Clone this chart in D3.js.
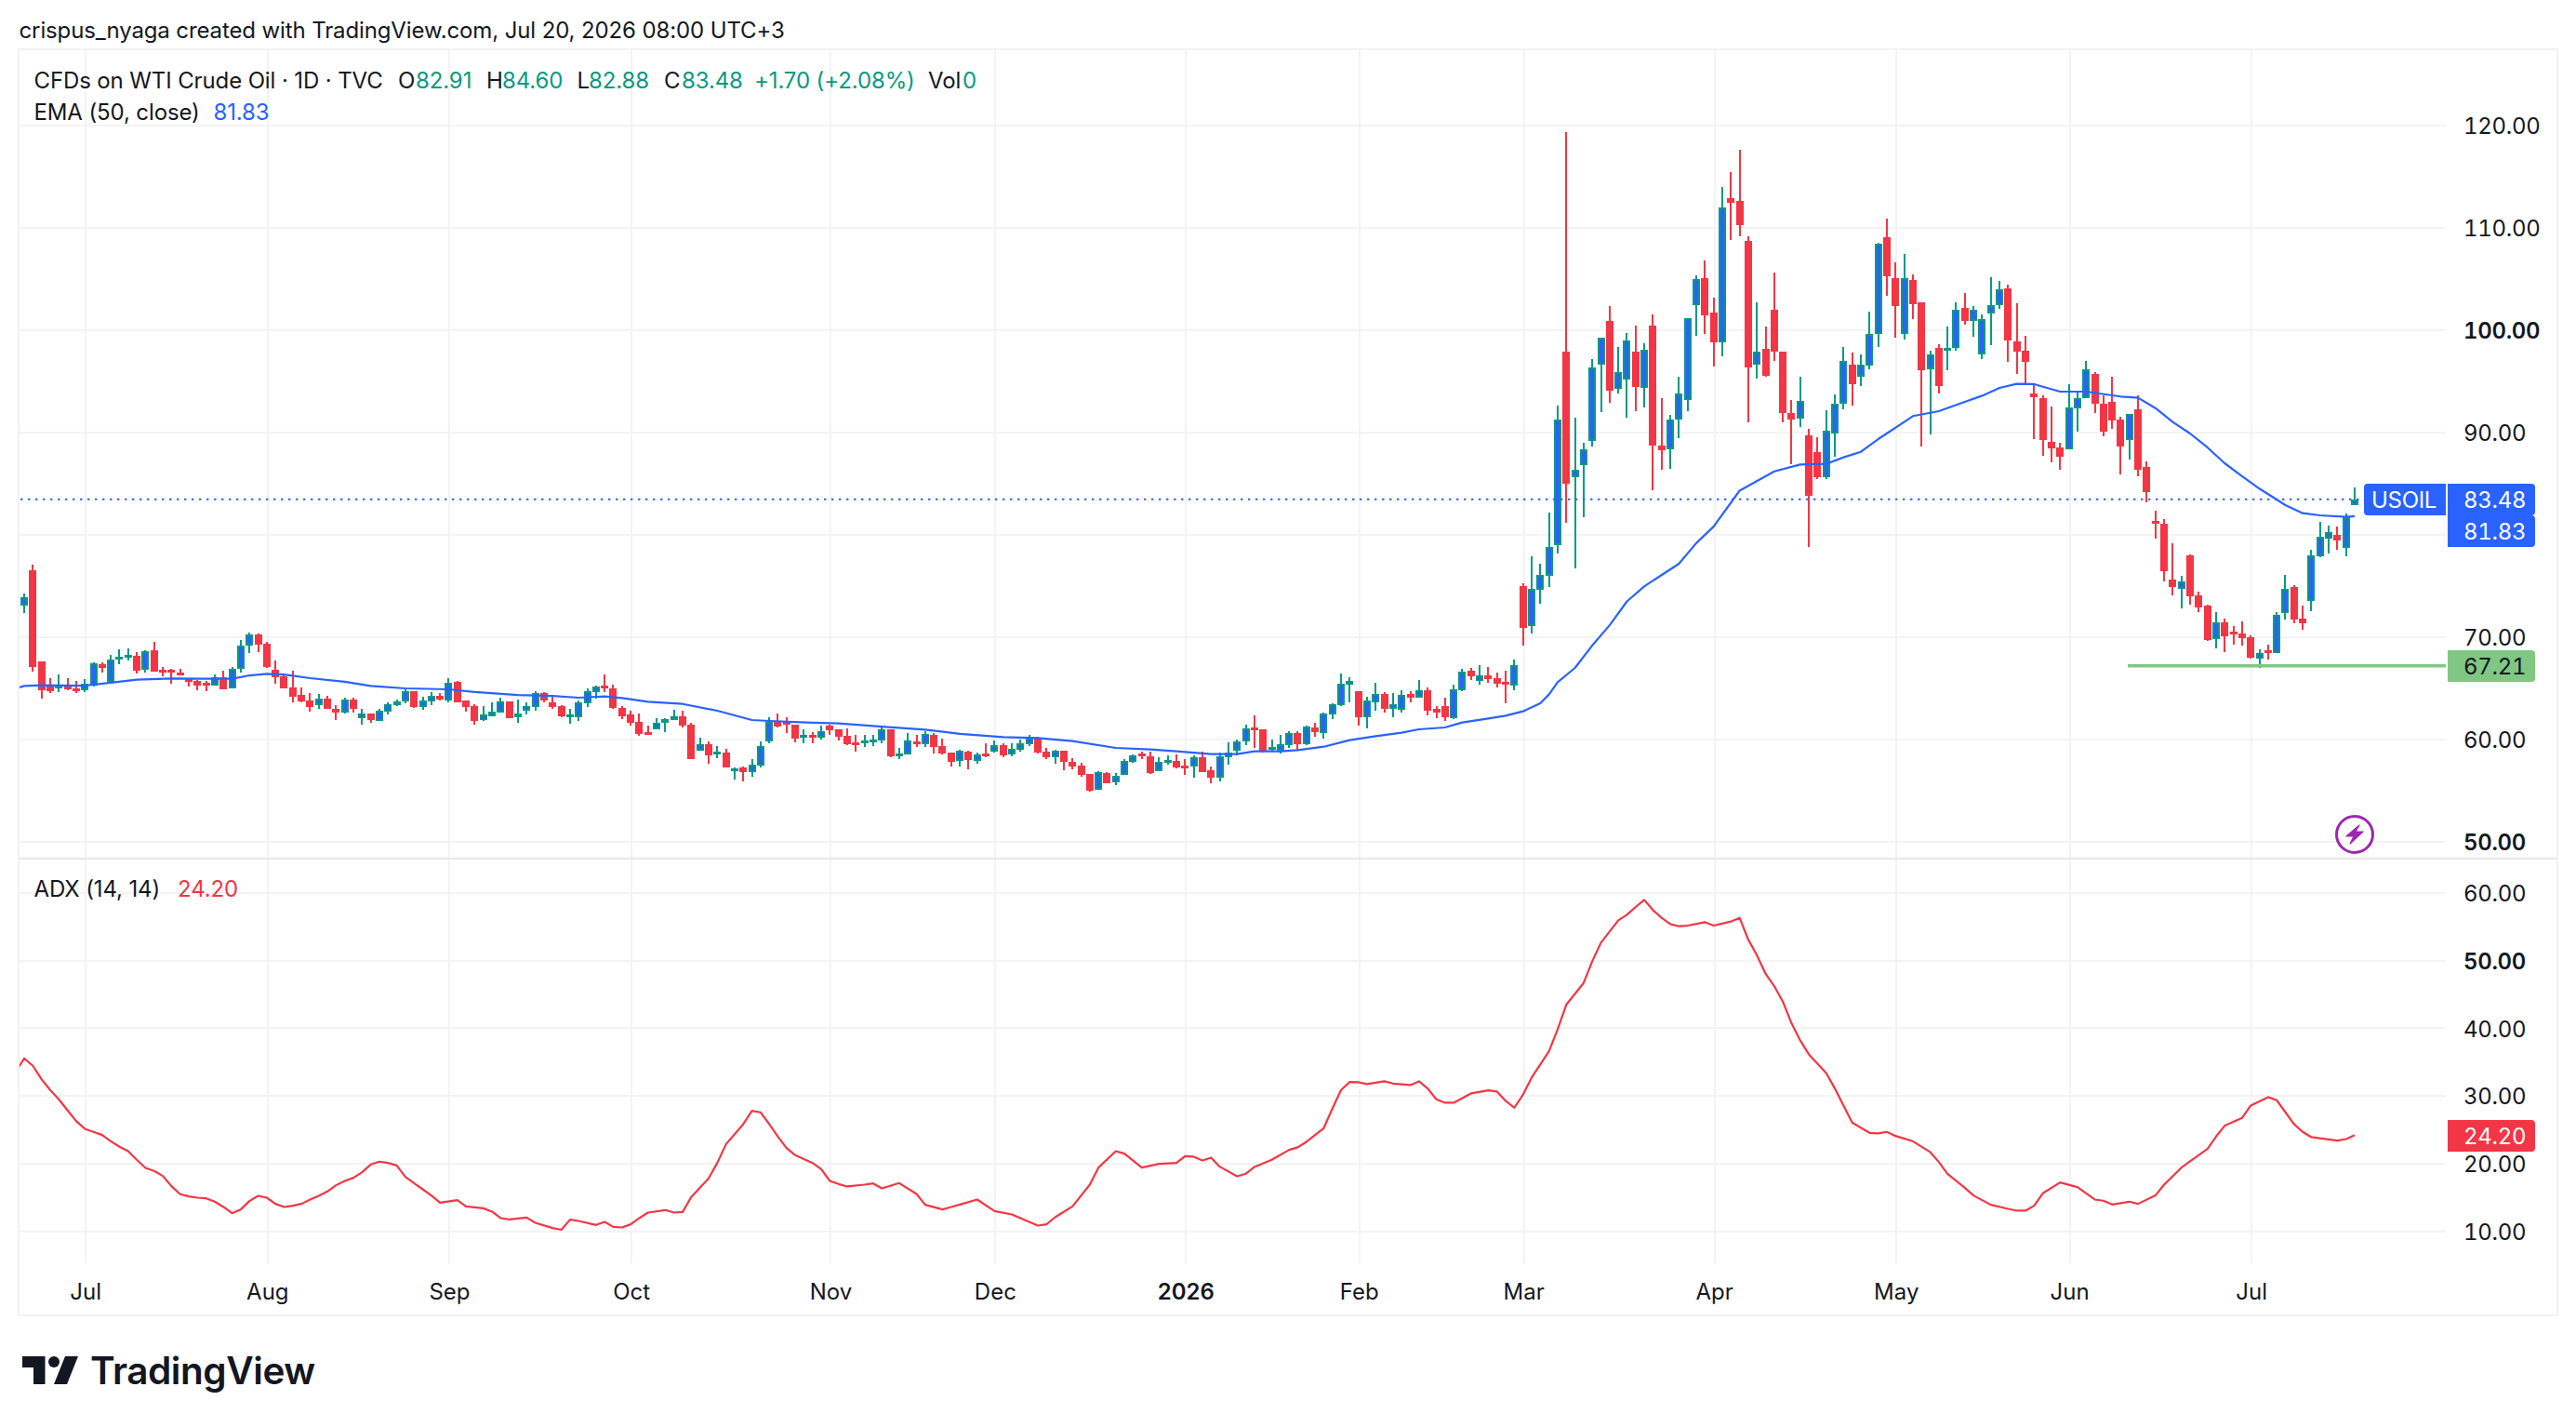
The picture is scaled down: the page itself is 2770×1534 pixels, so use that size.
<!DOCTYPE html>
<html>
<head>
<meta charset="utf-8">
<script src="https://cdn.jsdelivr.net/npm/d3@7/dist/d3.min.js"></script>
<style>
html,body{margin:0;padding:0;background:#fff;}
svg{display:block;}
text{font-family:Inter,"Noto Sans",sans-serif;fill:#131722;}
</style>
</head>
<body>
<svg id="chart" width="2770" height="1534"></svg>
<script>
// Daily WTI crude candles; the first bar sits just off the left edge of the pane.
const firstBar = -1;
const barOpen = [73.58,73.12,76.55,67.64,65.21,64.97,65.36,65.00,64.82,65.30,67.36,65.64,67.82,68.09,68.18,66.82,68.73,66.82,66.82,66.55,66.00,65.73,65.55,65.27,66.09,65.00,66.91,69.18,70.27,69.36,66.82,66.18,65.09,64.36,63.82,63.36,64.00,63.00,62.64,63.91,62.09,62.55,61.82,62.73,63.36,63.73,64.73,63.18,63.73,64.27,63.82,65.64,63.82,63.27,61.91,62.27,62.64,63.73,62.18,62.82,63.18,64.55,63.64,63.27,62.27,62.18,63.55,64.64,65.27,65.00,63.09,62.45,61.73,60.73,
61.00,61.64,61.91,62.27,61.45,58.91,59.55,58.64,58.73,56.91,57.27,56.82,57.45,59.82,61.82,61.82,61.45,60.27,60.45,60.18,61.36,61.00,60.36,59.73,59.73,59.91,59.91,61.00,58.45,58.55,59.82,59.55,60.45,59.36,58.73,57.91,58.82,57.91,58.64,58.82,59.45,58.55,59.00,59.55,60.18,58.82,58.27,58.91,57.82,57.45,56.64,55.09,56.73,55.82,56.55,57.82,58.64,58.36,56.91,57.82,57.91,57.45,57.36,58.27,57.00,56.27,58.27,58.91,59.82,61.18,61.00,59.09,58.91,
59.45,60.64,59.55,61.18,60.67,62.45,63.36,65.36,64.73,62.18,63.64,64.45,63.00,62.91,64.45,64.09,64.82,63.00,63.27,62.09,64.82,66.73,65.73,66.27,66.00,65.64,65.27,74.97,
71.07,74.64,76.00,78.99,97.95,85.65,86.82,89.19,96.62,100.88,94.29,95.16,97.95,94.32,100.42,88.70,88.34,91.27,93.21,102.47,105.06,101.69,98.83,112.89,112.60,108.70,96.62,98.15,101.98,97.95,91.95,91.36,89.71,88.05,85.68,
89.91,92.79,96.61,95.42,96.55,99.61,109.06,105.06,99.61,104.88,102.70,96.15,98.24,98.06,98.24,102.15,100.88,97.61,101.61,102.42,104.06,98.88,97.97,93.79,93.33,89.06,88.52,88.33,92.33,93.36,95.70,92.79,92.97,91.24,89.24,92.24,86.60,
81.33,81.06,75.67,74.70,77.97,74.06,73.06,69.79,71.42,70.52,70.33,69.97,67.88,68.70,68.42,72.33,74.88,71.79,73.52,77.88,79.61,79.97,78.70,82.91];
const barHigh = [73.70,74.27,77.06,67.64,66.00,66.36,66.00,65.70,65.91,67.55,67.55,68.24,68.82,68.91,68.55,68.73,69.55,67.09,66.91,66.91,66.00,65.82,65.73,66.36,66.73,67.09,69.73,70.45,70.36,69.55,67.73,66.36,66.73,65.09,64.55,64.45,64.27,63.36,64.09,64.09,63.00,62.55,63.00,63.64,63.91,65.00,64.73,64.18,64.64,64.55,66.00,65.73,63.82,63.45,63.27,63.64,64.09,63.73,63.91,63.64,64.73,64.64,64.18,63.36,63.00,63.82,65.00,65.27,66.36,65.36,63.27,62.82,62.55,61.36,
62.09,62.09,62.91,62.82,61.64,60.18,59.82,59.36,59.09,57.27,57.36,58.09,59.82,62.18,62.55,62.18,61.45,61.00,60.73,61.36,61.45,61.00,61.09,60.45,60.45,60.45,61.18,61.00,59.18,60.64,60.45,60.82,60.64,60.09,58.73,59.00,58.91,58.73,59.64,59.91,59.64,59.64,60.00,60.45,60.27,59.18,59.00,58.91,58.18,57.73,56.64,56.91,56.82,56.73,58.09,58.55,58.82,58.82,58.27,58.45,58.55,58.09,58.45,58.82,57.36,58.73,59.73,60.00,61.45,62.36,61.00,60.00,60.45,
60.82,60.82,61.36,61.64,62.64,63.55,66.45,66.09,64.73,64.18,65.55,64.64,64.55,64.82,64.73,65.82,65.09,63.27,64.09,65.36,66.91,67.00,67.27,67.09,66.55,66.73,67.82,75.27,
77.95,77.18,82.14,92.60,119.40,91.43,88.96,97.14,99.30,102.40,98.34,99.71,100.42,98.70,101.59,93.34,91.69,95.42,101.14,105.32,106.79,103.21,113.96,115.42,117.60,109.16,102.69,100.32,105.62,97.95,93.21,95.42,90.32,89.51,92.14,
93.70,98.33,97.79,97.61,101.79,108.52,110.88,106.61,107.42,105.42,102.70,97.97,98.61,100.33,102.70,103.61,102.33,101.52,105.15,104.79,104.42,102.60,99.42,94.70,93.60,92.52,88.97,94.70,93.97,96.97,95.88,93.60,95.42,91.52,91.79,93.60,87.15,
82.33,81.52,79.15,75.97,78.06,74.42,73.15,72.42,71.79,71.06,71.52,70.15,68.79,69.24,72.42,76.06,75.06,73.06,78.52,81.24,80.88,80.79,82.06,84.60];
const barLow = [72.80,72.36,66.64,64.00,64.55,64.67,64.82,64.55,64.67,65.21,66.55,65.55,67.36,67.73,66.45,66.55,66.64,66.18,65.45,66.27,65.18,64.82,64.73,65.27,64.91,65.00,66.55,68.45,68.55,67.00,65.45,65.00,63.64,63.64,62.73,63.00,63.00,61.91,62.55,62.64,61.45,61.64,61.82,62.45,63.27,63.55,63.09,62.91,63.36,63.82,63.64,63.64,62.73,61.45,61.82,62.27,62.64,62.09,61.64,62.45,62.82,63.64,63.00,62.18,61.55,61.82,63.18,64.00,64.64,63.00,62.00,61.36,60.36,60.45,
61.00,60.73,61.91,61.18,58.09,58.91,57.64,58.18,57.27,56.09,55.91,56.36,57.27,59.64,61.18,60.64,59.73,59.64,59.64,60.00,60.45,59.91,59.45,58.82,59.27,59.36,59.64,58.27,58.09,58.55,59.27,59.27,58.64,58.55,57.36,57.36,57.09,57.64,58.27,58.73,58.27,58.36,58.82,59.36,58.64,58.09,57.64,57.00,57.09,56.36,54.91,55.09,55.73,55.55,56.55,57.73,58.09,56.64,56.91,57.55,57.18,56.55,56.27,56.82,55.73,55.91,57.55,58.45,59.45,59.18,58.73,58.91,58.64,
59.18,58.91,59.45,60.27,60.09,62.00,63.27,63.64,61.36,61.09,62.82,62.64,62.18,62.64,63.64,64.09,62.36,62.09,61.82,62.00,64.73,65.82,65.36,65.55,65.09,63.55,64.82,69.18,
70.32,73.28,74.90,78.18,81.14,76.69,81.69,88.60,91.98,92.89,93.80,91.43,92.05,92.44,84.32,86.33,86.43,89.42,92.05,99.45,99.61,96.43,97.44,108.86,109.16,90.97,95.23,95.45,96.98,90.97,86.88,90.52,78.86,85.42,85.42,
87.61,92.24,92.61,94.52,96.15,98.33,103.33,99.24,99.06,101.06,88.61,89.79,93.79,96.06,97.97,100.52,99.33,97.15,98.52,102.06,96.88,95.70,94.70,89.33,87.70,87.06,86.33,88.33,90.06,93.36,91.88,89.61,90.33,85.88,87.33,85.70,83.15,
79.61,75.42,74.06,72.79,73.15,72.42,69.61,68.88,68.52,69.24,69.15,67.88,66.97,67.79,68.42,71.70,71.33,70.70,72.52,77.79,78.15,78.52,77.88,82.88];
const barClose = [72.94,73.91,67.09,64.85,64.73,65.27,64.88,64.85,65.45,67.45,67.00,67.82,68.09,68.27,66.73,68.64,66.64,66.55,66.64,66.27,65.64,65.27,65.36,66.09,64.91,66.91,69.18,70.27,69.27,67.09,66.09,65.00,64.18,63.73,63.18,64.00,63.00,62.64,63.91,63.00,62.55,61.91,62.82,63.45,63.73,64.73,63.18,63.82,64.27,63.91,65.55,63.64,63.18,61.82,62.45,62.73,63.73,62.09,62.55,63.27,64.55,63.82,63.18,62.27,62.45,63.64,64.73,65.18,65.09,63.09,62.27,61.64,60.55,60.55,
61.64,62.00,62.27,61.36,58.09,59.55,58.45,58.82,57.27,57.18,56.82,57.55,59.36,61.73,61.27,61.45,60.09,60.45,60.27,60.82,60.91,60.27,59.55,59.55,59.91,60.00,61.00,58.36,58.64,59.91,59.64,60.55,59.27,58.64,57.82,58.91,58.00,58.55,58.45,59.45,58.45,59.09,59.64,60.18,58.73,58.27,58.91,57.82,57.36,56.55,55.00,56.82,55.73,56.45,57.91,58.45,58.36,56.73,57.82,58.00,57.27,57.27,58.27,56.82,56.27,58.36,58.73,59.82,61.09,61.00,58.82,59.27,59.55,
60.64,59.55,61.27,60.73,62.55,63.45,65.45,65.73,62.18,63.82,64.45,63.00,63.45,64.36,64.09,64.82,62.82,62.64,62.18,64.91,66.64,66.18,66.27,65.91,65.45,65.36,67.27,70.91,
74.77,76.07,78.80,91.23,85.00,86.33,88.34,96.33,99.25,94.09,95.94,98.96,94.42,98.05,88.70,88.28,91.23,93.80,101.14,104.97,101.46,98.83,111.98,112.44,110.23,96.33,97.95,95.52,97.89,91.88,91.23,93.12,83.86,85.68,90.16,
92.79,96.97,94.70,96.61,99.61,108.42,105.24,102.33,105.06,102.52,96.06,97.61,94.52,98.24,101.97,100.88,101.97,101.06,102.42,103.97,98.97,97.88,96.88,93.42,89.24,88.42,87.61,92.42,93.33,96.15,92.79,90.06,91.15,88.61,91.79,86.33,84.15,
81.06,76.42,74.88,75.42,73.97,72.88,69.70,71.42,70.06,70.33,69.88,67.97,68.42,68.52,72.15,74.70,71.70,71.33,77.97,79.79,80.24,79.42,81.70,83.48];

// EMA (50) readings, bar number and level.
const emaBar = [-1,0,2,7,10,13,17,21,24,26,28,30,33,37,40,44,49,52,57,61,64,67,69,72,76,80,84,86,91,94,99,104,108,113,117,121,126,130,134,137,140,142,145,147,150,153,156,159,161,164,166,169,171,173,175,176,177,179,181,183,185,187,191,193,195,198,202,205,208,210,212,214,217,218,221,224,226,228,230,232,235,238,242,244,246,248,250,252,254,256,258,260,261,263,265,268,269];
const emaValue = [65.00,65.24,65.30,65.27,65.55,65.85,65.97,65.94,65.94,66.27,66.42,66.36,66.00,65.64,65.24,65.00,64.91,64.64,64.36,64.27,64.09,64.21,64.06,63.70,63.48,62.82,61.91,61.82,61.64,61.58,61.27,60.97,60.55,60.24,60.15,59.85,59.18,59.03,58.79,58.58,58.58,58.85,58.85,58.97,59.30,59.94,60.33,60.67,61.00,61.18,61.67,62.06,62.33,62.76,63.55,64.40,65.60,67.00,69.20,71.17,73.50,74.97,77.18,79.19,80.81,84.32,86.20,86.88,86.94,87.58,88.12,89.36,91.03,91.61,92.09,93.00,93.60,94.36,94.76,94.73,94.00,94.00,93.52,93.40,92.39,91.03,89.91,88.55,87.00,85.73,84.52,83.45,82.91,82.12,81.91,81.76,81.83];

// ADX (14, 14) readings, bar number and level.
const adxBar = [-1,0,1,2,3,4,5,6,7,8,9,10,11,12,13,14,15,16,17,18,19,20,21,22,23,24,25,26,27,28,29,30,31,32,33,34,35,36,37,38,39,40,41,42,43,44,45,46,47,48,50,51,53,54,55,56,58,59,61,62,63,64,66,67,68,69,70,71,72,74,75,76,77,79,80,81,83,84,85,86,87,88,89,91,92,93,94,95,97,98,99,101,103,104,106,107,108,110,112,114,116,117,118,119,121,123,124,126,127,129,131,133,134,135,136,137,138,140,141,142,144,146,147,148,150,151,152,153,154,155,157,158,160,161,162,163,164,165,167,169,170,171,172,173,174,176,177,178,180,181,182,184,185,186,187,188,189,190,191,192,194,195,197,198,199,200,201,202,203,204,205,206,208,209,210,211,213,214,215,216,218,220,221,222,224,225,227,229,230,231,232,233,235,237,239,240,241,243,244,246,247,249,250,252,253,254,256,257,259,260,262,263,264,267,268,269];
const adxValue = [33.50,35.55,34.45,32.48,30.87,29.50,27.89,26.28,25.14,24.68,24.22,23.30,22.48,21.83,20.55,19.36,18.90,18.17,16.65,15.46,15.14,14.95,14.86,14.36,13.58,12.66,13.21,14.45,15.23,14.95,14.04,13.58,13.76,14.04,14.68,15.23,15.87,16.79,17.43,17.89,18.72,19.86,20.28,20.09,19.72,18.03,17.11,16.19,15.28,14.22,14.59,13.67,13.39,12.89,11.93,11.74,12.02,11.24,10.46,10.20,11.70,11.51,10.92,11.38,10.64,10.55,11.01,11.93,12.75,13.12,12.75,12.84,15.05,17.80,20.09,22.84,25.83,27.80,27.57,25.83,23.99,22.29,21.24,20.09,19.17,17.43,16.97,16.61,16.88,17.06,16.33,17.11,15.50,13.90,13.21,13.58,13.94,14.68,12.98,12.48,11.38,10.83,11.01,12.06,13.67,16.88,19.40,21.83,21.47,19.40,19.95,20.09,21.10,21.01,20.46,20.87,19.54,18.12,18.49,19.50,20.55,22.02,22.39,23.21,25.23,28.12,30.87,32.06,32.02,31.74,32.16,31.83,31.60,32.16,31.10,29.50,28.99,28.99,30.37,30.83,30.64,29.27,28.26,30.18,32.71,36.61,39.82,43.49,46.70,49.91,52.66,55.96,56.79,57.94,58.99,57.48,56.33,55.41,55.09,55.18,55.69,55.18,55.78,56.33,53.12,50.83,48.07,46.24,43.94,40.73,38.21,36.15,33.39,31.10,28.58,26.06,24.54,24.45,24.68,24.08,23.30,21.70,20.23,18.49,16.42,15.28,13.90,13.30,13.03,13.03,13.76,15.60,17.20,16.51,14.68,14.50,13.94,14.36,14.04,15.28,16.88,19.40,20.32,22.16,23.99,25.60,26.74,28.58,29.82,29.36,25.83,24.68,23.90,23.39,23.62,24.20];

const priceTicks = [50,60,70,80,90,100,110,120];
const adxTicks = [10,20,30,40,50,60];
const boldTicks = [50,100];
const monthLabels = ["Jul","Aug","Sep","Oct","Nov","Dec","2026","Feb","Mar","Apr","May","Jun","Jul"];
const monthBars = [7,28,49,70,93,112,134,154,173,195,216,236,257];

const lastClose = 83.48;
const lastEma = 81.83;
const lastAdx = 24.20;
const lowMark = 67.21;

const RED = "#F23645", GREEN = "#089981", BLUE = "#2962FF", MINT = "#81C784", GRID = "#F3F3F3", INK = "#131722";

const svg = d3.select("#chart");

const x = d3.scaleLinear().domain([0,269]).range([26,2532]);
const yPrice = d3.scaleLinear().domain([60,120]).range([795,135]);
const yAdx = d3.scaleLinear().domain([10,60]).range([1323.5,960]);

const frame = {left:20,right:2750,top:53,bottom:1414,axisX:2630,paneSplit:923,gridBottom:1358};

// Frame and pane split
const back = svg.append("g");
back.append("rect").attr("x",frame.left).attr("y",frame.top)
  .attr("width",frame.right-frame.left).attr("height",frame.bottom-frame.top)
  .attr("fill","#fff").attr("stroke","#F2F2F2").attr("stroke-width",2);

// Grid
const grid = svg.append("g").attr("shape-rendering","crispEdges").attr("stroke",GRID).attr("stroke-width",2);
grid.selectAll("line.v").data(monthBars).join("line")
  .attr("x1",d=>Math.round(x(d))+1).attr("x2",d=>Math.round(x(d))+1)
  .attr("y1",frame.top).attr("y2",frame.gridBottom);
grid.selectAll("line.p").data(priceTicks).join("line").attr("class","p")
  .attr("x1",frame.left).attr("x2",frame.axisX)
  .attr("y1",d=>yPrice(d)).attr("y2",d=>yPrice(d));
grid.selectAll("line.a").data(adxTicks).join("line").attr("class","a")
  .attr("x1",frame.left).attr("x2",frame.axisX)
  .attr("y1",d=>yAdx(d)).attr("y2",d=>yAdx(d));
svg.append("line").attr("x1",frame.left).attr("x2",frame.right)
  .attr("y1",frame.paneSplit).attr("y2",frame.paneSplit)
  .attr("stroke","#E9E9E9").attr("stroke-width",2.5);

// Candles, clipped to the chart pane
svg.append("defs").append("clipPath").attr("id","paneClip").append("rect")
  .attr("x",frame.left+1).attr("y",frame.top).attr("width",frame.axisX-frame.left-1).attr("height",frame.paneSplit-frame.top);
const bars = barOpen.map((o,i)=>({bar:i+firstBar,open:o,high:barHigh[i],low:barLow[i],close:barClose[i]}));
const candles = svg.append("g").attr("clip-path","url(#paneClip)").attr("shape-rendering","crispEdges");
const candle = candles.selectAll("g").data(bars).join("g");
const cx = d=>Math.round(x(d.bar));
const bodyTop = d=>Math.round(yPrice(Math.max(d.open,d.close)));
const bodyH = d=>Math.max(Math.round(yPrice(Math.min(d.open,d.close)))-bodyTop(d),3);
const tone = d=>d.close>=d.open?GREEN:RED;
candle.append("rect").attr("x",d=>cx(d)-1).attr("width",2)
  .attr("y",d=>yPrice(d.high)).attr("height",d=>yPrice(d.low)-yPrice(d.high)).attr("fill",tone);
candle.append("rect").attr("x",d=>cx(d)-4).attr("width",8)
  .attr("y",bodyTop).attr("height",bodyH).attr("fill",tone);
candle.filter(d=>d.close>=d.open&&bodyH(d)>4).append("rect").attr("x",d=>cx(d)-2).attr("width",4)
  .attr("y",d=>bodyTop(d)+2).attr("height",d=>bodyH(d)-4).attr("fill",BLUE);

// EMA line
const emaLine = d3.line().x(d=>x(d[0])).y(d=>yPrice(d[1]));
svg.append("path").attr("clip-path","url(#paneClip)")
  .attr("d",emaLine(d3.zip(emaBar,emaValue)))
  .attr("fill","none").attr("stroke",BLUE).attr("stroke-width",2.2).attr("stroke-linejoin","round");

// Last price dotted line
svg.append("line").attr("x1",frame.left+2).attr("x2",2542)
  .attr("y1",yPrice(lastClose)).attr("y2",yPrice(lastClose))
  .attr("stroke",BLUE).attr("stroke-width",2).attr("stroke-dasharray","2.4 5.6");

// Horizontal marker at the swing low
svg.append("line").attr("x1",2288).attr("x2",frame.axisX)
  .attr("y1",yPrice(lowMark)).attr("y2",yPrice(lowMark))
  .attr("stroke",MINT).attr("stroke-width",3.4);

// ADX line
const adxLine = d3.line().x(d=>x(d[0])).y(d=>yAdx(d[1]));
svg.append("defs").append("clipPath").attr("id","adxClip").append("rect")
  .attr("x",frame.left+1).attr("y",frame.paneSplit).attr("width",frame.axisX-frame.left).attr("height",frame.bottom-frame.paneSplit);
svg.append("path").attr("clip-path","url(#adxClip)")
  .attr("d",adxLine(d3.zip(adxBar,adxValue)))
  .attr("fill","none").attr("stroke",RED).attr("stroke-width",2.2).attr("stroke-linejoin","round");

// Axis labels, left aligned on the price scale with even digit widths
const axisFont = 24;
const axisTextX = 2649;
function scaleText(sel){
  sel.style("font-variant-numeric","tabular-nums").style("letter-spacing","-0.3px").style("font-size",axisFont+"px");
}
function priceAxis(scale,ticks){
  const g = svg.append("g").attr("transform",`translate(${axisTextX},0)`)
    .call(d3.axisRight(scale).tickValues(ticks).tickSize(0).tickPadding(0).tickFormat(d3.format(".2f")));
  g.select(".domain").remove();
  g.selectAll("text").attr("text-anchor","start").attr("x",0).attr("dy","0.36em")
    .call(scaleText)
    .style("font-weight",d=>boldTicks.includes(d)?600:400);
  g.attr("font-family",null).attr("font-size",null);
}
priceAxis(yPrice,priceTicks);
priceAxis(yAdx,adxTicks);

const timeAxis = svg.append("g");
timeAxis.selectAll("text").data(monthLabels).join("text")
  .attr("x",(d,i)=>x(monthBars[i])+1).attr("y",1396.5)
  .attr("text-anchor","middle").attr("font-size",axisFont)
  .attr("font-weight",d=>d==="2026"?600:400).text(d=>d);

// Value tags on the price scale
function tag(xPos,yPos,w,h,fill,textFill,str,textX,roundRight){
  const r=4;
  const right=xPos+w, bottom=yPos+h;
  const d = roundRight
    ? `M${xPos},${yPos}H${right-r}Q${right},${yPos} ${right},${yPos+r}V${bottom-r}Q${right},${bottom} ${right-r},${bottom}H${xPos}Z`
    : `M${xPos+r},${yPos}H${right}V${bottom}H${xPos+r}Q${xPos},${bottom} ${xPos},${bottom-r}V${yPos+r}Q${xPos},${yPos} ${xPos+r},${yPos}Z`;
  svg.append("path").attr("d",d).attr("fill",fill);
  svg.append("text").attr("x",textX).attr("y",yPos+h/2).attr("dy","0.36em")
    .call(scaleText).style("fill",textFill).text(str);
}
const fmt = d3.format(".2f");
tag(2542,520,88,34,BLUE,"#fff","USOIL",2550,false);
tag(2632,520,94,34,BLUE,"#fff",fmt(lastClose),axisTextX,true);
tag(2632,554,94,34,BLUE,"#fff",fmt(lastEma),axisTextX,true);
tag(2632,699,94,34,MINT,INK,fmt(lowMark),axisTextX,true);
tag(2632,1204,94,34,RED,"#fff",fmt(lastAdx),axisTextX,true);

// Status lines
function label(str,xPos,yPos,size,color){
  svg.append("text").attr("x",xPos).attr("y",yPos).attr("dy","0.36em")
    .attr("font-size",size).style("letter-spacing","-0.12px").style("fill",color||INK).text(str);
}
const legendSize = 24;
label("crispus_nyaga created with TradingView.com, Jul 20, 2026 08:00 UTC+3",20.5,32,legendSize);
label("CFDs on WTI Crude Oil · 1D · TVC",36.5,86,legendSize);
[["O",428],["H",523],["L",620.5],["C",714]].forEach(p=>label(p[0],p[1],86,legendSize));
[[fmt(barOpen[barOpen.length-1]),447],[fmt(barHigh[barHigh.length-1]),540],[fmt(barLow[barLow.length-1]),633],[fmt(lastClose),733]]
  .forEach(p=>label(p[0],p[1],86,legendSize,GREEN));
label("+1.70 (+2.08%)",811,86,legendSize,GREEN);
label("Vol",998,86,legendSize);
label("0",1035,86,legendSize,GREEN);
label("EMA (50, close)",36.5,120,legendSize);
label(fmt(lastEma),229.5,120,legendSize,BLUE);
label("ADX (14, 14)",36.5,955,legendSize);
label(fmt(lastAdx),191,955,legendSize,RED);

// Event badge near the last bar
const badge = svg.append("g").attr("transform","translate(2532,897)");
badge.append("circle").attr("r",19.5).attr("fill","#fff").attr("stroke","#9C27B0").attr("stroke-width",3);
badge.append("path").attr("d","M5,-10 L-9,2 L-1,2 L-5,10 L9,-3 L1,-3 Z").attr("fill","#9C27B0")
  .attr("stroke","#9C27B0").attr("stroke-width",1.2).attr("stroke-linejoin","round");

// Footer brand mark
const brand = svg.append("g").attr("fill",INK);
brand.append("path").attr("d","M24,1458 H48.5 V1488 H36 V1470 H24 Z");
brand.append("circle").attr("cx",58).attr("cy",1464).attr("r",6);
brand.append("path").attr("d","M84,1458 L72,1488 H58 L70,1458 Z");
svg.append("text").attr("x",97).attr("y",1487.5).attr("font-size",40.5)
  .style("font-weight",600).style("letter-spacing","-0.45px").text("TradingView");
</script>
</body>
</html>
